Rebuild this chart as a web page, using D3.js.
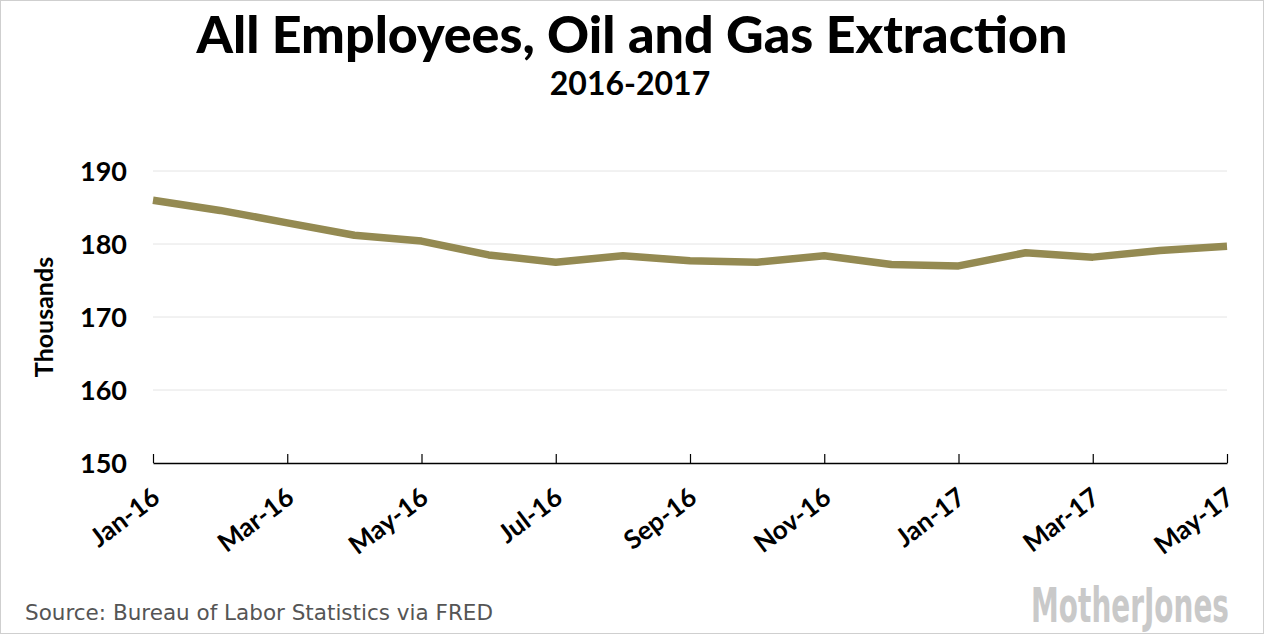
<!DOCTYPE html>
<html>
<head>
<meta charset="utf-8">
<script src="https://cdn.jsdelivr.net/npm/d3@7"></script>
<style>
  body { margin: 0; background: #fff; }
  text { font-family: Lato, "Open Sans", sans-serif; }
</style>
</head>
<body>
<div class="chart"></div>
<script>
// monthly employment, thousands
var months = ["Jan-16","Feb-16","Mar-16","Apr-16","May-16","Jun-16","Jul-16","Aug-16",
              "Sep-16","Oct-16","Nov-16","Dec-16","Jan-17","Feb-17","Mar-17","Apr-17","May-17"];
var employees = [186.0, 184.6, 182.9, 181.2, 180.4, 178.5, 177.5, 178.4,
                 177.7, 177.5, 178.4, 177.2, 177.0, 178.8, 178.2, 179.1, 179.7];
var yTicks = [150, 160, 170, 180, 190];

var width = 1265,
    height = 635;

var svg = d3.select(".chart").append("svg")
    .attr("width", width)
    .attr("height", height);

// frame
svg.append("rect")
    .attr("x", 0.5).attr("y", 0.5)
    .attr("width", width - 2).attr("height", height - 2)
    .attr("fill", "#fff")
    .attr("stroke", "#cfcfcf");

var x = d3.scalePoint()
    .domain(months)
    .range([153, 1227]);

var y = d3.scaleLinear()
    .domain([150, 190])
    .range([463, 171]);

// gridlines
svg.append("g")
  .selectAll("line")
    .data(yTicks.slice(1))
  .enter().append("line")
    .attr("x1", 153)
    .attr("x2", 1227)
    .attr("y1", function(d) { return y(d); })
    .attr("y2", function(d) { return y(d); })
    .attr("stroke", "#e4e4e4")
    .attr("stroke-width", 1);

// y labels
svg.append("g")
  .selectAll("text")
    .data(yTicks)
  .enter().append("text")
    .attr("x", 127)
    .attr("y", function(d) { return y(d); })
    .attr("dy", "0.36em")
    .attr("text-anchor", "end")
    .style("font-size", "27px")
    .style("font-weight", "bold")
    .text(function(d) { return d; });

// x axis
var xAxis = d3.axisBottom(x)
    .tickValues(months.filter(function(d, i) { return i % 2 === 0; }))
    .tickSizeInner(-9)
    .tickSizeOuter(0);

var gx = svg.append("g")
    .attr("transform", "translate(0," + y(150) + ")")
    .call(xAxis);

gx.select(".domain").attr("stroke", "#000").attr("stroke-width", 1.5);
gx.selectAll(".tick line").attr("stroke", "#000").attr("stroke-width", 1.2);
gx.selectAll(".tick text")
    .attr("y", 0)
    .attr("dy", 0)
    .attr("transform", "translate(8,38) rotate(-37)")
    .attr("text-anchor", "end")
    .style("font-family", "Lato, sans-serif")
    .style("font-size", "26px")
    .style("font-weight", "bold")
    .attr("fill", "#000");

// the line
var line = d3.line()
    .x(function(d, i) { return x(months[i]); })
    .y(function(d) { return y(d); });

svg.append("path")
    .datum(employees)
    .attr("d", line)
    .attr("fill", "none")
    .attr("stroke", "#948a52")
    .attr("stroke-width", 7.5)
    .attr("stroke-linejoin", "round");

// y title
svg.append("text")
    .attr("transform", "translate(53,317) rotate(-90)")
    .attr("text-anchor", "middle")
    .style("font-size", "25px")
    .style("font-weight", "bold")
    .text("Thousands");

// titles
svg.append("text")
    .attr("x", 632)
    .attr("y", 53)
    .attr("text-anchor", "middle")
    .style("font-size", "52px")
    .style("font-weight", "900")
    .text("All Employees, Oil and Gas Extraction");

svg.append("text")
    .attr("x", 630)
    .attr("y", 95)
    .attr("text-anchor", "middle")
    .style("font-size", "32px")
    .style("font-weight", "bold")
    .text("2016-2017");

// footer
svg.append("text")
    .attr("x", 25)
    .attr("y", 620)
    .style("font-family", "'DejaVu Sans', Verdana, sans-serif")
    .style("font-size", "21.5px")
    .attr("fill", "#555")
    .text("Source: Bureau of Labor Statistics via FRED");

// logo, squeezed horizontally to the reference's width
var logo = svg.append("text")
    .attr("text-anchor", "end")
    .style("font-family", "'Liberation Sans Narrow', 'DejaVu Sans Condensed', sans-serif")
    .style("font-size", "48px")
    .style("font-weight", "bold")
    .attr("fill", "#c9c9c9")
    .text("MotherJones");
var lw = logo.node().getComputedTextLength();
logo.attr("transform", "translate(1229,622) scale(" + (198 / lw) + ",1)");
</script>
</body>
</html>
